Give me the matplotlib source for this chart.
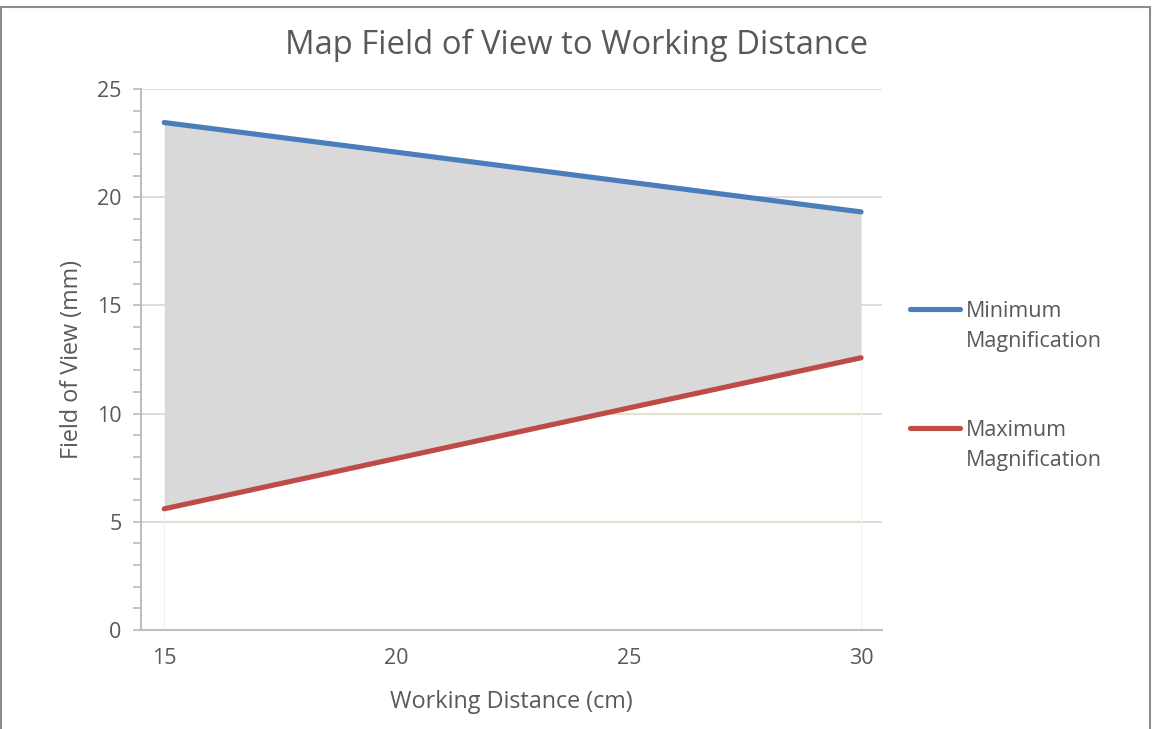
import matplotlib.pyplot as plt
import numpy as np
from matplotlib.lines import Line2D
from matplotlib.patches import Rectangle
from matplotlib.ticker import MultipleLocator

plt.rcParams["font.family"] = ["Open Sans", "DejaVu Sans"]

# working distance (cm) and field of view (mm) at both magnification limits
distance_cm = [15, 20, 25, 30]
fov_min_mag = [23.45, 22.08, 20.7, 19.32]
fov_max_mag = [5.6, 7.93, 10.26, 12.58]

series_labels = ["Minimum\nMagnification", "Maximum\nMagnification"]
series_colors = ["#4A7EBB", "#BE4B48"]
title = "Map Field of View to Working Distance"
text_color = "#595959"
axis_color = "#BFBFBF"
grid_color = "#D9D9D9"

W, H = 1153, 729
fig = plt.figure(figsize=(W / 100, H / 100), dpi=100)
ax = fig.add_axes([141 / W, 1 - 630 / H, (882 - 141) / W, (630 - 89) / H])

x = np.asarray(distance_cm, dtype=float)
upper = np.asarray(fov_min_mag, dtype=float)
lower = np.asarray(fov_max_mag, dtype=float)

# shaded band between the two magnification limits
ax.fill_between(x, lower, upper, color="#D9D9D9", linewidth=0, zorder=2)
# white area under the lower limit, tinted gridlines show through it
base = ax.fill_between(x, 0, lower, color="white", linewidth=0, zorder=1)
clip = base.get_paths()[0]
for y in (5, 10):
    seg, = ax.plot([x[0], x[-1]], [y, y], color="#E6E1CF", linewidth=1.6, zorder=1.5)
    seg.set_clip_path(clip, ax.transData)
ax.plot([x[0], x[0]], [0, lower[0]], color="#F2F2F2", linewidth=0.8, zorder=1.5)
ax.plot([x[-1], x[-1]], [0, lower[-1]], color="#F2F2F2", linewidth=0.8, zorder=1.5)

ax.plot(x, upper, color=series_colors[0], linewidth=3.7, solid_capstyle="round", zorder=3)
ax.plot(x, lower, color=series_colors[1], linewidth=3.7, solid_capstyle="round", zorder=3)

ax.set_xlim(14.5, 30.45)
ax.set_ylim(0, 25)
ax.set_xticks([15, 20, 25, 30])
ax.yaxis.set_major_locator(MultipleLocator(5))
ax.yaxis.set_minor_locator(MultipleLocator(1))
ax.grid(axis="y", which="major", color=grid_color, linewidth=1.3, zorder=0)
ax.set_axisbelow(True)

for side in ("top", "right"):
    ax.spines[side].set_visible(False)
for side in ("left", "bottom"):
    ax.spines[side].set_color(axis_color)
    ax.spines[side].set_linewidth(1.5)

ax.tick_params(axis="y", which="major", direction="out", length=6, width=1.3,
               color=axis_color, labelsize=15.5, labelcolor=text_color, pad=8)
ax.tick_params(axis="y", which="minor", direction="out", length=6, width=1.3,
               color=axis_color)
ax.tick_params(axis="x", which="major", length=0, labelsize=15.5,
               labelcolor=text_color, pad=13)

ax.set_xlabel("Working Distance (cm)", fontsize=16.8, color=text_color, labelpad=15)
ax.set_ylabel("Field of View (mm)", fontsize=16.8, color=text_color, labelpad=9)
fig.text(577 / W, 1 - 45 / H, title, fontsize=23.6, color=text_color,
         ha="center", va="center")

# legend: handle sits level with the first line of each label
for label, color, y_px in zip(series_labels, series_colors, (309, 428)):
    fig.add_artist(Line2D([910 / W, 960 / W], [1 - y_px / H] * 2, color=color,
                          linewidth=3.7, solid_capstyle="round"))
    fig.text(966 / W, 1 - (y_px - 8) / H, label, fontsize=15.5, color=text_color,
             ha="left", va="top", linespacing=1.55)

# outer chart frame
fig.add_artist(Rectangle((1 / W, -0.01), 1149 / W, 1.0, transform=fig.transFigure,
                         fill=False, edgecolor="#8C8C8C", linewidth=1.5))

fig.savefig("out.png", dpi=100)
